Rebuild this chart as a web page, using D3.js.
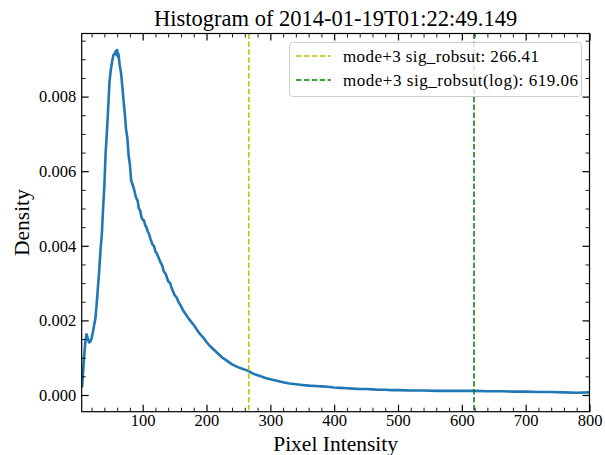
<!DOCTYPE html>
<html>
<head>
<meta charset="utf-8">
<script src="https://cdn.jsdelivr.net/npm/d3@7/dist/d3.min.js"></script>
<style>
  html, body { margin: 0; padding: 0; background: #fff; }
  svg { display: block; }
  text { font-family: "Liberation Serif", "DejaVu Serif", serif; fill: #000; }
</style>
</head>
<body>
<svg id="chart" width="605" height="455"></svg>
<script>
// Histogram (density) of pixel intensities
const intensity = [
  5, 8, 10, 12, 14, 16, 18, 20, 22, 24, 26, 28, 30, 32, 34, 36, 38, 40, 42, 44,
  46, 48, 50, 52, 54, 56, 58, 59, 60, 61, 62, 64, 66, 68, 70, 72, 74, 76, 78, 80,
  82, 84, 86, 88, 90, 92, 94, 96, 98, 100, 102, 104, 106, 108, 110, 112, 115, 118, 120, 122,
  125, 128, 130, 133, 136, 140, 143, 146, 150, 153, 156, 160, 164, 168, 172, 176, 180, 185, 190, 195,
  200, 205, 210, 215, 220, 225, 230, 235, 240, 245, 250, 255, 260, 265, 270, 275, 280, 285, 290, 295,
  300, 310, 320, 330, 340, 350, 360, 370, 380, 390, 400, 410, 420, 430, 440, 450, 460, 470, 480, 490,
  500, 520, 540, 560, 580, 600, 620, 640, 660, 680, 700, 720, 740, 760, 780, 800
];
const density = [
  0.00020, 0.00095, 0.00140, 0.00163, 0.00152, 0.00141, 0.00143, 0.00152, 0.00168, 0.00188,
  0.00205, 0.00245, 0.00290, 0.00335, 0.00390, 0.00430, 0.00500, 0.00560, 0.00650, 0.00705,
  0.00770, 0.00840, 0.00870, 0.00893, 0.00910, 0.00915, 0.00922, 0.00912, 0.00925, 0.00908,
  0.00915, 0.00885, 0.00865, 0.00830, 0.00790, 0.00755, 0.00712, 0.00690, 0.00642, 0.00618,
  0.00575, 0.00565, 0.00555, 0.00540, 0.00528, 0.00522, 0.00500, 0.00495, 0.00478, 0.00470,
  0.00468, 0.00455, 0.00450, 0.00438, 0.00432, 0.00420, 0.00405, 0.00398, 0.00385, 0.00380,
  0.00368, 0.00355, 0.00350, 0.00332, 0.00325, 0.00305, 0.00300, 0.00284, 0.00268, 0.00262,
  0.00250, 0.00238, 0.00225, 0.00215, 0.00205, 0.00196, 0.00188, 0.00175, 0.00163, 0.00154,
  0.00142, 0.00132, 0.00124, 0.00116, 0.00108, 0.00100, 0.00094, 0.00088, 0.00082, 0.00078,
  0.00074, 0.00071, 0.00068, 0.00065, 0.00060, 0.00056, 0.00053, 0.00050, 0.00047, 0.00044,
  0.00042, 0.00038, 0.00034, 0.00031, 0.00029, 0.00027, 0.00025, 0.00024, 0.00023, 0.00022,
  0.00020, 0.00019, 0.00018, 0.00017, 0.00016, 0.00016, 0.00015, 0.00014, 0.00014, 0.00013,
  0.00013, 0.00012, 0.00012, 0.00011, 0.00011, 0.00011, 0.00011, 0.00010, 0.00010, 0.00009,
  0.00009, 0.00008, 0.00008, 0.00007, 0.00006, 0.00007
];

// Threshold markers
const thresholds = [266.41, 619.06];
const thresholdLabels = ["mode+3 sig_robsut: 266.41", "mode+3 sig_robsut(log): 619.06"];
const thresholdColors = ["#bfbf00", "#008000"];

// Axis ticks
const xMajorTicks = [100, 200, 300, 400, 500, 600, 700, 800];
const xMinorTicks = d3.range(20, 800, 20).filter(v => v % 100 !== 0);
const yMajorTicks = [0, 0.002, 0.004, 0.006, 0.008];
const yMinorTicks = d3.range(0.0005, 0.0096, 0.0005).filter(v => Math.abs(v / 0.002 - Math.round(v / 0.002)) > 1e-6);

const titleText = "Histogram of 2014-01-19T01:22:49.149";
const xLabel = "Pixel Intensity";
const yLabel = "Density";

const svg = d3.select("#chart");
const plotL = 81.7, plotR = 589.5, plotT = 33.5, plotB = 411.7;

const x = d3.scaleLinear().domain([4.5, 800]).range([plotL, plotR]);
const y = d3.scaleLinear().domain([-0.000448, 0.009692]).range([plotB, plotT]);

const series = intensity.map((v, i) => [v, density[i]]);

// Clip to plotting area
svg.append("defs").append("clipPath").attr("id", "plotClip")
  .append("rect").attr("x", plotL).attr("y", plotT)
  .attr("width", plotR - plotL).attr("height", plotB - plotT);

const plot = svg.append("g").attr("clip-path", "url(#plotClip)");

plot.append("path")
  .datum(series)
  .attr("fill", "none")
  .attr("stroke", "#1f77b4")
  .attr("stroke-width", 2.6)
  .attr("stroke-linejoin", "round")
  .attr("d", d3.line().x(d => x(d[0])).y(d => y(d[1])));

thresholds.forEach((t, i) => {
  plot.append("line")
    .attr("x1", x(t)).attr("x2", x(t))
    .attr("y1", plotT).attr("y2", plotB)
    .attr("stroke", thresholdColors[i])
    .attr("stroke-width", 1.5)
    .attr("stroke-dasharray", "5.5,2.4");
});

// Axes with inward ticks on all four sides
const fontTick = 16.5;
function tickAxis(axisGen, transform) {
  const g = svg.append("g").attr("transform", transform).call(axisGen);
  g.select(".domain").remove();
  g.selectAll("line").attr("stroke", "#000");
  return g;
}

// Bottom
const xb = tickAxis(d3.axisBottom(x).tickValues(xMajorTicks).tickSize(-7).tickPadding(3), `translate(0,${plotB})`);
xb.selectAll("line").attr("stroke-width", 1.2);
xb.selectAll("text").attr("font-size", fontTick).attr("font-family", "Liberation Serif, serif");
const xbm = tickAxis(d3.axisBottom(x).tickValues(xMinorTicks).tickSize(-4).tickFormat(""), `translate(0,${plotB})`);
xbm.selectAll("line").attr("stroke-width", 0.9);
// Top
const xt = tickAxis(d3.axisTop(x).tickValues(xMajorTicks).tickSize(-7).tickFormat(""), `translate(0,${plotT})`);
xt.selectAll("line").attr("stroke-width", 1.2);
const xtm = tickAxis(d3.axisTop(x).tickValues(xMinorTicks).tickSize(-4).tickFormat(""), `translate(0,${plotT})`);
xtm.selectAll("line").attr("stroke-width", 0.9);
// Left
const yl = tickAxis(d3.axisLeft(y).tickValues(yMajorTicks).tickSize(-7).tickPadding(5.5).tickFormat(d3.format(".3f")), `translate(${plotL},0)`);
yl.selectAll("line").attr("stroke-width", 1.2);
yl.selectAll("text").attr("font-size", fontTick).attr("font-family", "Liberation Serif, serif");
const ylm = tickAxis(d3.axisLeft(y).tickValues(yMinorTicks).tickSize(-4).tickFormat(""), `translate(${plotL},0)`);
ylm.selectAll("line").attr("stroke-width", 0.9);
// Right
const yr = tickAxis(d3.axisRight(y).tickValues(yMajorTicks).tickSize(-7).tickFormat(""), `translate(${plotR},0)`);
yr.selectAll("line").attr("stroke-width", 1.2);
const yrm = tickAxis(d3.axisRight(y).tickValues(yMinorTicks).tickSize(-4).tickFormat(""), `translate(${plotR},0)`);
yrm.selectAll("line").attr("stroke-width", 0.9);

// Frame
svg.append("rect")
  .attr("x", plotL).attr("y", plotT)
  .attr("width", plotR - plotL).attr("height", plotB - plotT)
  .attr("fill", "none").attr("stroke", "#000").attr("stroke-width", 1.2);

// Legend
const legend = svg.append("g");
legend.append("rect")
  .attr("x", 289.5).attr("y", 42.5).attr("width", 292).attr("height", 54)
  .attr("rx", 3).attr("ry", 3)
  .attr("fill", "#fff").attr("fill-opacity", 0.8)
  .attr("stroke", "#cccccc").attr("stroke-width", 1);
const legendWidths = [196, 235];
thresholdLabels.forEach((lab, i) => {
  const cy = 56 + i * 24;
  legend.append("line")
    .attr("x1", 296).attr("x2", 331).attr("y1", cy).attr("y2", cy)
    .attr("stroke", thresholdColors[i]).attr("stroke-width", 1.5)
    .attr("stroke-dasharray", "5.5,2.4");
  legend.append("text")
    .attr("x", 343).attr("y", cy + 5.5)
    .attr("font-size", 17)
    .attr("textLength", legendWidths[i])
    .attr("lengthAdjust", "spacing")
    .text(lab);
});

// Titles
svg.append("text")
  .attr("x", (plotL + plotR) / 2).attr("y", 26)
  .attr("text-anchor", "middle").attr("font-size", 22.5)
  .text(titleText);
svg.append("text")
  .attr("x", (plotL + plotR) / 2).attr("y", 451)
  .attr("text-anchor", "middle").attr("font-size", 21.5)
  .text(xLabel);
svg.append("text")
  .attr("transform", `translate(29,${(plotT + plotB) / 2}) rotate(-90)`)
  .attr("text-anchor", "middle").attr("font-size", 21.5)
  .text(yLabel);
</script>
</body>
</html>
